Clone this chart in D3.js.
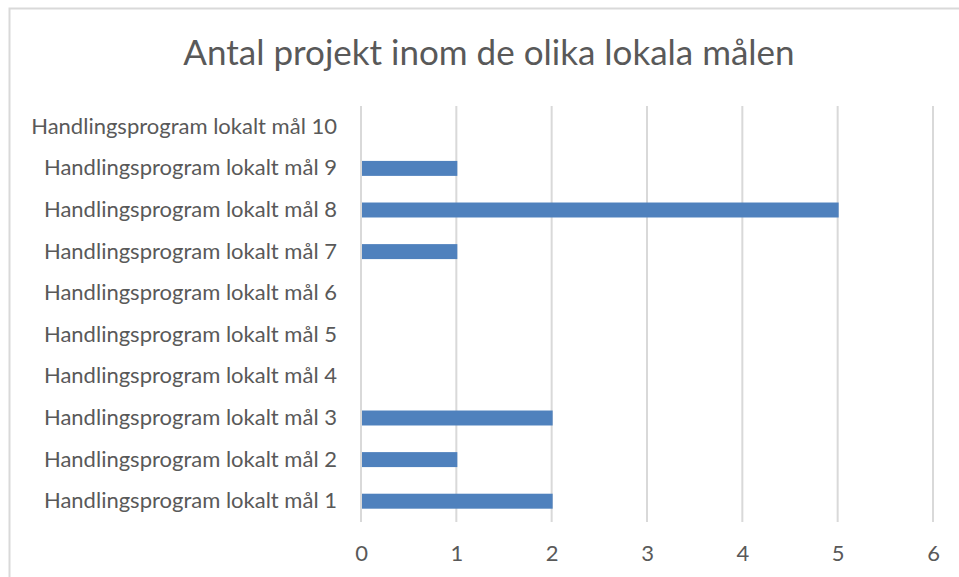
<!DOCTYPE html>
<html>
<head>
<meta charset="utf-8">
<script src="https://cdn.jsdelivr.net/npm/d3@7"></script>
<style>
  body { margin: 0; background: #fff; }
  svg { display: block; }
</style>
</head>
<body>
<div id="chart"></div>
<script>
// data
const categories = [
  'Handlingsprogram lokalt mål 1',
  'Handlingsprogram lokalt mål 2',
  'Handlingsprogram lokalt mål 3',
  'Handlingsprogram lokalt mål 4',
  'Handlingsprogram lokalt mål 5',
  'Handlingsprogram lokalt mål 6',
  'Handlingsprogram lokalt mål 7',
  'Handlingsprogram lokalt mål 8',
  'Handlingsprogram lokalt mål 9',
  'Handlingsprogram lokalt mål 10'
];
const values = [2, 1, 2, 0, 0, 0, 1, 5, 1, 0];
const xTicks = [0, 1, 2, 3, 4, 5, 6];
const title = 'Antal projekt inom de olika lokala målen';

const W = 959, H = 577;
const margin = {top: 106, right: 26, bottom: 55, left: 361};
const font = 'Lato, "Open Sans", sans-serif';
const textColor = '#595959';

const svg = d3.select('#chart')
  .append('svg')
  .attr('width', W)
  .attr('height', H);

// chart frame (runs off the right and bottom of the picture)
svg.append('rect')
  .attr('x', 9.5)
  .attr('y', 8.5)
  .attr('width', W + 20)
  .attr('height', H + 20)
  .attr('fill', '#fff')
  .attr('stroke', '#d9d9d9')
  .attr('stroke-width', 2);

svg.append('text')
  .attr('x', 489)
  .attr('y', 65)
  .attr('text-anchor', 'middle')
  .attr('font-family', font)
  .attr('font-size', 35)
  .attr('fill', textColor)
  .text(title);

const width = W - margin.left - margin.right;
const height = H - margin.top - margin.bottom;

const chart = svg.append('g')
  .attr('transform', `translate(${margin.left}, ${margin.top})`);

// linear scale for the counts
const scaleX = d3.scaleLinear()
  .domain([0, 6])
  .range([0, 572]);

// band scale, first category at the bottom
const scaleY = d3.scaleBand()
  .domain(categories)
  .range([height, 0])
  .paddingInner(0.64)
  .paddingOuter(0.32);

// gridlines
chart.selectAll('.grid')
  .data(xTicks)
  .enter()
  .append('line')
  .attr('class', 'grid')
  .attr('x1', d => scaleX(d))
  .attr('x2', d => scaleX(d))
  .attr('y1', 0)
  .attr('y2', height)
  .attr('stroke', '#d9d9d9')
  .attr('stroke-width', 2);

chart.selectAll('.bar')
  .data(values)
  .enter()
  .append('rect')
  .attr('class', 'bar')
  .attr('x', scaleX(0) + 1)
  .attr('y', (d, i) => scaleY(categories[i]))
  .attr('width', d => Math.max(0, scaleX(d) - scaleX(0)))
  .attr('height', scaleY.bandwidth())
  .attr('fill', '#4f81bd');

// x axis
const xAxis = d3.axisBottom(scaleX)
  .tickValues(xTicks)
  .tickFormat(d3.format('d'))
  .tickSize(0)
  .tickPadding(23);
const xAxisGroup = chart.append('g')
  .attr('transform', `translate(0, ${height})`)
  .call(xAxis);
xAxisGroup.select('.domain').remove();
xAxisGroup.selectAll('text')
  .attr('font-family', font)
  .attr('font-size', 22)
  .attr('fill', textColor);

// y axis
const yAxis = d3.axisLeft(scaleY).tickSize(0).tickPadding(24);
const yAxisGroup = chart.append('g').call(yAxis);
yAxisGroup.select('.domain').remove();
yAxisGroup.selectAll('text')
  .attr('font-family', font)
  .attr('font-size', 22)
  .attr('fill', textColor);
</script>
</body>
</html>
